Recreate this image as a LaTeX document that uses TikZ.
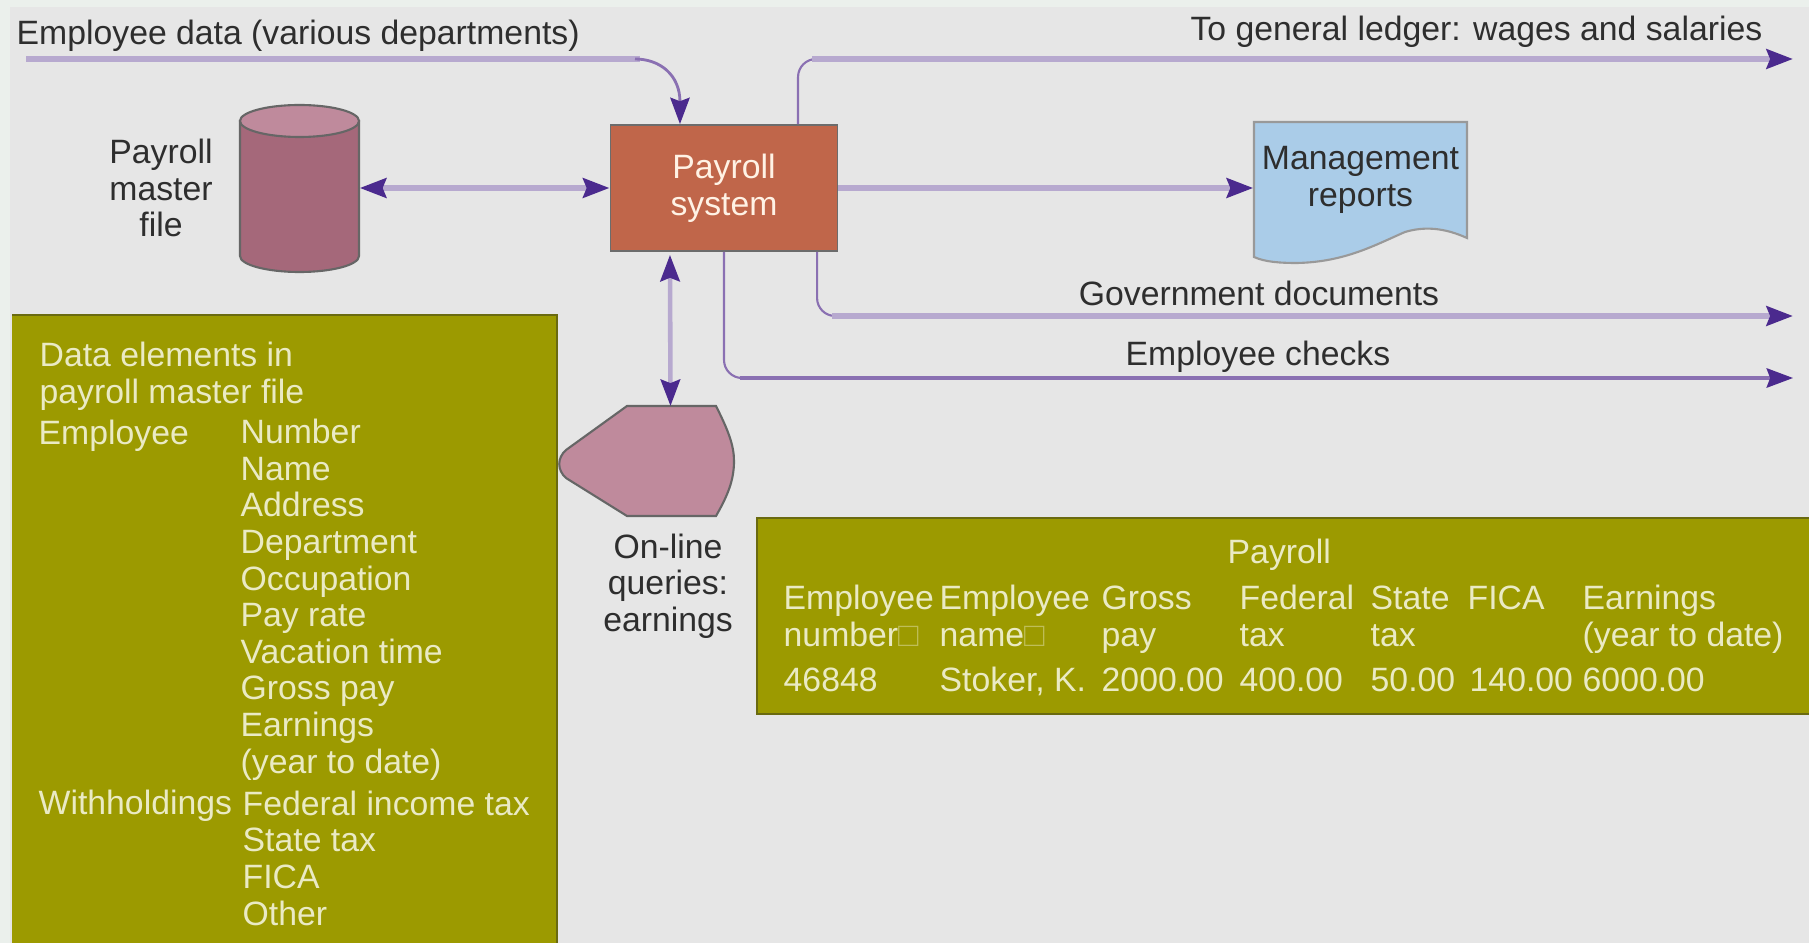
\documentclass[tikz,border=0pt]{standalone}
\usepackage{xcolor}
\usepackage{fontspec}
\setmainfont{Liberation Sans}
\usetikzlibrary{arrows.meta}

\definecolor{panelgray}{HTML}{E6E6E6}
\definecolor{stripgray}{HTML}{EBF0EC}
\definecolor{flowlight}{HTML}{B7A9CF}
\definecolor{flowdark}{HTML}{8A70B2}
\definecolor{tipviolet}{HTML}{4B2A8E}
\definecolor{olivebox}{HTML}{9C9A00}
\definecolor{oliveedge}{HTML}{6A6A10}
\definecolor{oliveink}{HTML}{EAEAC4}
\definecolor{sysorange}{HTML}{C0664A}
\definecolor{filemauve}{HTML}{A5687A}
\definecolor{topmauve}{HTML}{BF8A9C}
\definecolor{docblue}{HTML}{AACCE8}
\definecolor{labelink}{HTML}{2E2E2E}

\tikzset{
    label text/.style={text=labelink, align=center, inner sep=0pt, font=\fontsize{9.6}{10.4}\selectfont},
    olive text/.style={text=oliveink, align=left, inner sep=0pt, anchor=base west, font=\fontsize{9.6}{10.4}\selectfont},
    flow/.style={draw=flowdark, line width=0.6pt, rounded corners=0.18cm},
    flow wide/.style={draw=flowlight, line width=1.7pt},
    flow thin/.style={draw=flowdark, line width=0.9pt},
    tip end/.style={-{Stealth[length=7.5pt,width=5.5pt,inset=1pt,color=tipviolet]}},
    tip both/.style={{Stealth[length=7.5pt,width=5.5pt,inset=1pt,color=tipviolet]}-{Stealth[length=7.5pt,width=5.5pt,inset=1pt,color=tipviolet]}}
}

\begin{document}
\begin{tikzpicture}[x=0.01cm,y=-0.01cm]
        \useasboundingbox (0,0) rectangle (1809,943);
        % Draw the page and the gray panel
        \fill[stripgray] (0,0) rectangle (1809,943);
        \fill[panelgray] (10,7) rectangle (1809,943);

        % Draw the two olive boxes
        \fill[olivebox] (12,315) rectangle (557,943);
        \draw[oliveedge, line width=0.8pt] (12,315) -- (557,315) -- (557,943);
        \fill[olivebox] (757,518) rectangle (1809,714);
        \draw[oliveedge, line width=0.8pt] (1809,518) -- (757,518) -- (757,714) -- (1809,714);

        % Draw the payroll system and the master file
        \node[fill=sysorange, draw=gray!85!black, line width=0.5pt, minimum width=2.27cm, minimum height=1.26cm,
              text=white!90!orange, align=center, inner sep=0pt, font=\fontsize{9.6}{10.4}\selectfont] (sys) at (724,188) {Payroll\\system};
        \fill[filemauve, draw=black!60, line width=0.6pt] (240,121) -- (240,256)
            arc[start angle=180, end angle=0, x radius=59.5, y radius=16] -- (359,121) -- cycle;
        \fill[topmauve, draw=black!60, line width=0.6pt] (299.5,121) ellipse[x radius=59.5, y radius=16];
        \node[minimum width=1.19cm, minimum height=1.67cm, inner sep=0pt] (mfile) at (299.5,188.5) {};
        \node[label text] (mfilelabel) at (161,188) {Payroll\\master\\file};

        % Draw the report sheet
        \fill[docblue, draw=black!40, line width=0.6pt] (1254,122) -- (1467,122) -- (1467,238)
            .. controls (1445,228) and (1425,226) .. (1405,232)
            .. controls (1375,245) and (1345,262) .. (1297,263)
            .. controls (1280,263) and (1265,262) .. (1254,257) -- cycle;
        \node[label text, minimum width=2.13cm] (report) at (1360.5,180) {Management\\reports};

        % Draw the query display
        \fill[topmauve, draw=black!60, line width=0.6pt] (627,406) -- (716,406)
            .. controls (728,430) and (734,445) .. (734,461)
            .. controls (734,480) and (728,495) .. (716,516) -- (627,516) -- (566,478)
            .. controls (557,470) and (557,458) .. (566,450) -- cycle;
        \coordinate (querytop) at (670.5,406);
        \node[label text] (querylabel) at (668,586) {On-line\\queries:\\earnings};

        % Draw the connectors
        \coordinate (datastart) at (26,59);
        \coordinate (ledgerbend) at (812,59);
        \coordinate (ledgerout) at (1793,59);
        \coordinate (govbend) at (832,316);
        \coordinate (govout) at (1793,316);
        \coordinate (checkbend) at (740,378);
        \coordinate (checkout) at (1793,378);
        \draw[flow wide] (datastart) -- (640,59);
        \draw[flow, line width=0.8pt, tip end] (635,59) .. controls (660,59) and (680,75) .. ([xshift=-0.44cm]sys.north);
        \draw[flow wide, tip both] (mfile.east |- sys.west) -- (sys.west);
        \draw[flow wide, tip end] (sys.east) -- (report.west |- sys.east);
        \draw[flow wide, line width=1.3pt, tip both] ([xshift=-0.54cm,yshift=-0.03cm]sys.south) -- (querytop);
        \draw[flow] ([xshift=0.74cm]sys.north) |- (ledgerbend);
        \draw[flow wide, tip end] (ledgerbend) -- (ledgerout);
        \draw[flow] ([xshift=0.93cm]sys.south) |- (govbend);
        \draw[flow wide, tip end] (govbend) -- (govout);
        \draw[flow] (sys.south) |- (checkbend);
        \draw[flow thin, tip end] (checkbend) -- (checkout);

        % Label the flows
        \node[label text, anchor=west] (datalabel) at (16,36) {Employee data (various departments)};
        \node[label text, anchor=east] (ledgerlabel) at (1763,32) {To general ledger: wages and salaries};
        \node[label text] (govlabel) at (1259,293) {Government documents};
        \node[label text] (checklabel) at (1258,357) {Employee checks};

        % Fill in the master file box
        \node[olive text] (elemhead) at (39,403) {Data elements in\\payroll master file};
        \node[olive text] (emplabel) at (38,445) {Employee};
        \node[olive text] (emplist) at (240,773) {Number\\Name\\Address\\Department\\Occupation\\Pay rate\\Vacation time\\Gross pay\\Earnings\\(year to date)};
        \node[olive text] (withlabel) at (38,814) {Withholdings};
        \node[olive text] (withlist) at (242,925) {Federal income tax\\State tax\\FICA\\Other};

        % Fill in the payroll table
        \node[olive text] (tabhead) at (1227,563) {Payroll};
        \node[olive text] (colnumber) at (783,646) {Employee\\number{\color{oliveink!45!olivebox}□}};
        \node[olive text] (colname) at (939,646) {Employee\\name{\color{oliveink!45!olivebox}□}};
        \node[olive text] (colgross) at (1101,646) {Gross\\pay};
        \node[olive text] (colfed) at (1239,646) {Federal\\tax};
        \node[olive text] (colstate) at (1370,646) {State\\tax};
        \node[olive text] (colfica) at (1467,609) {FICA};
        \node[olive text] (colearn) at (1582,646) {Earnings\\(year to date)};
        \node[olive text] (valnumber) at (783,691) {46848};
        \node[olive text] (valname) at (939,691) {Stoker, K.};
        \node[olive text] (valgross) at (1101,691) {2000.00};
        \node[olive text] (valfed) at (1239,691) {400.00};
        \node[olive text] (valstate) at (1370,691) {50.00};
        \node[olive text] (valfica) at (1469,691) {140.00};
        \node[olive text] (valearn) at (1582,691) {6000.00};
\end{tikzpicture}
\end{document}
